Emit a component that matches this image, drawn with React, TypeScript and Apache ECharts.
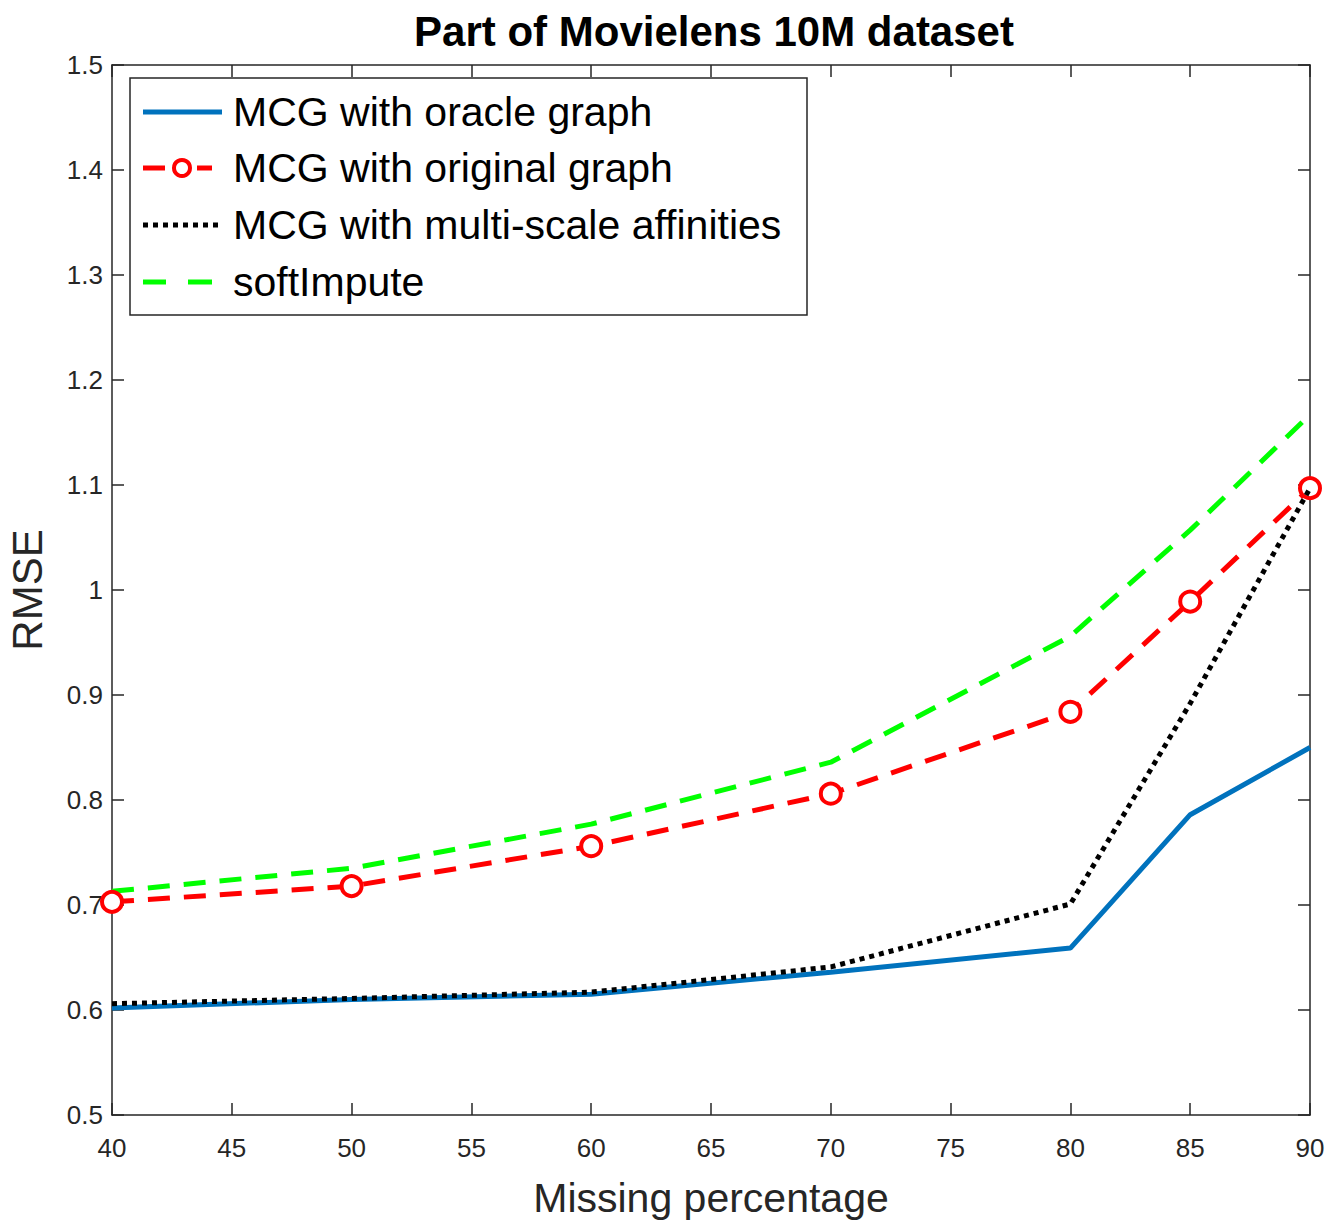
import React, { useEffect, useRef } from "react";
import * as echarts from "echarts";

const xValues = [40, 50, 60, 70, 80, 85, 90];
const oracleGraph = [0.602, 0.61, 0.615, 0.636, 0.659, 0.786, 0.85];
const originalGraph = [0.703, 0.718, 0.756, 0.806, 0.884, 0.989, 1.097];
const multiScale = [0.606, 0.611, 0.617, 0.641, 0.701, 0.892, 1.097];
const softImpute = [0.713, 0.735, 0.777, 0.836, 0.956, 1.057, 1.167];

const seriesNames = [
  "MCG with oracle graph",
  "MCG with original graph",
  "MCG with multi-scale affinities",
  "softImpute",
];
const seriesColors = ["#0072BD", "#FF0000", "#000000", "#00FF00"];
const seriesDash: (number[] | null)[] = [null, [22, 14], [5, 5], [22, 14]];

const FONT = "'Liberation Sans', Arial, Helvetica, sans-serif";
const AXIS_COLOR = "#262626";

function pairs(ys: number[]) {
  return xValues.map((x, i) => [x, ys[i]]);
}

function legendGraphics() {
  const left = 130;
  const top = 78;
  const rowY = [112, 168, 225, 282];
  const iconX0 = 143;
  const iconX1 = 222;
  const els: any[] = [
    {
      type: "rect",
      shape: { x: left, y: top, width: 677, height: 237 },
      style: { fill: "#ffffff", stroke: AXIS_COLOR, lineWidth: 1.5 },
      z: 100,
    },
  ];
  seriesNames.forEach((name, i) => {
    const y = rowY[i];
    const dash = seriesDash[i];
    if (i === 1) {
      els.push({
        type: "line",
        shape: { x1: iconX0, y1: y, x2: 165, y2: y },
        style: { stroke: seriesColors[i], lineWidth: 5 },
        z: 101,
      });
      els.push({
        type: "line",
        shape: { x1: 197, y1: y, x2: 212, y2: y },
        style: { stroke: seriesColors[i], lineWidth: 5 },
        z: 101,
      });
      els.push({
        type: "circle",
        shape: { cx: 182, cy: y, r: 8 },
        style: { fill: "#ffffff", stroke: seriesColors[i], lineWidth: 4 },
        z: 102,
      });
    } else if (i === 3) {
      els.push({
        type: "line",
        shape: { x1: iconX0, y1: y, x2: 166, y2: y },
        style: { stroke: seriesColors[i], lineWidth: 5 },
        z: 101,
      });
      els.push({
        type: "line",
        shape: { x1: 188, y1: y, x2: 212, y2: y },
        style: { stroke: seriesColors[i], lineWidth: 5 },
        z: 101,
      });
    } else {
      els.push({
        type: "line",
        shape: { x1: iconX0, y1: y, x2: iconX1, y2: y },
        style: { stroke: seriesColors[i], lineWidth: 5, lineDash: dash || undefined },
        z: 101,
      });
    }
    els.push({
      type: "text",
      x: 233,
      y: y,
      style: {
        text: name,
        fontFamily: FONT,
        fontSize: 41,
        fill: "#000000",
        textVerticalAlign: "middle",
        verticalAlign: "middle",
      },
      z: 101,
    });
  });
  return els;
}

export default function App() {
  const ref = useRef<HTMLDivElement>(null);
  useEffect(() => {
    document.body.style.margin = "0";
    if (!ref.current) return;
    const chart = echarts.init(ref.current, undefined, { renderer: "svg" });
    const axisCommon = {
      type: "value" as const,
      axisLine: { show: true, lineStyle: { color: AXIS_COLOR, width: 1.5 } },
      axisTick: { show: true, inside: true, length: 12, lineStyle: { color: AXIS_COLOR, width: 1.5 } },
      splitLine: { show: false },
    };
    chart.setOption({
      animation: false,
      backgroundColor: "#ffffff",
      title: {
        text: "Part of Movielens 10M dataset",
        left: 709,
        top: 5,
        textAlign: "center",
        textStyle: { fontFamily: FONT, fontWeight: "bold", fontSize: 42, color: "#000" },
      },
      graphic: legendGraphics(),
      grid: { left: 112, right: 30, top: 65, bottom: 111, containLabel: false, outerBoundsMode: "none" },
      xAxis: [
        {
          ...axisCommon,
          position: "bottom",
          min: 40,
          max: 90,
          interval: 5,
          name: "Missing percentage",
          nameLocation: "middle",
          nameGap: 62,
          nameTextStyle: { fontFamily: FONT, fontSize: 41, color: AXIS_COLOR },
          axisLabel: { fontFamily: FONT, fontSize: 26, color: AXIS_COLOR, margin: 20 },
        },
        {
          ...axisCommon,
          position: "top",
          min: 40,
          max: 90,
          interval: 5,
          axisLabel: { show: false },
        },
      ],
      yAxis: [
        {
          ...axisCommon,
          position: "left",
          min: 0.5,
          max: 1.5,
          interval: 0.1,
          name: "RMSE",
          nameLocation: "middle",
          nameGap: 64,
          nameRotate: 90,
          nameTextStyle: { fontFamily: FONT, fontSize: 42, color: AXIS_COLOR },
          axisLabel: { fontFamily: FONT, fontSize: 26, color: AXIS_COLOR, margin: 9 },
        },
        {
          ...axisCommon,
          position: "right",
          min: 0.5,
          max: 1.5,
          interval: 0.1,
          axisLabel: { show: false },
        },
      ],
      series: [
        {
          name: seriesNames[0],
          type: "line",
          data: pairs(oracleGraph),
          symbol: "none",
          lineStyle: { color: seriesColors[0], width: 5 },
          itemStyle: { color: seriesColors[0] },
          z: 3,
        },
        {
          name: seriesNames[1],
          type: "line",
          data: pairs(originalGraph),
          symbol: "circle",
          symbolSize: 20,
          lineStyle: { color: seriesColors[1], width: 5, type: seriesDash[1] },
          itemStyle: { color: "#ffffff", borderColor: seriesColors[1], borderWidth: 4 },
          z: 4,
        },
        {
          name: seriesNames[2],
          type: "line",
          data: pairs(multiScale),
          symbol: "none",
          lineStyle: { color: seriesColors[2], width: 5, type: seriesDash[2] },
          itemStyle: { color: seriesColors[2] },
          z: 5,
        },
        {
          name: seriesNames[3],
          type: "line",
          data: pairs(softImpute),
          symbol: "none",
          lineStyle: { color: seriesColors[3], width: 5, type: seriesDash[3] },
          itemStyle: { color: seriesColors[3] },
          z: 2,
        },
      ],
    });
    return () => chart.dispose();
  }, []);
  return <div ref={ref} style={{ width: 1340, height: 1226 }} />;
}
